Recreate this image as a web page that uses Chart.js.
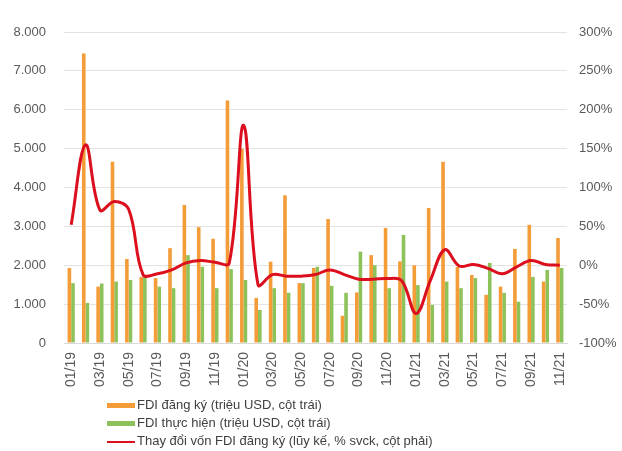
<!DOCTYPE html>
<html>
<head>
<meta charset="utf-8">
<script src="https://cdn.jsdelivr.net/npm/chart.js@4/dist/chart.umd.min.js"></script>
<style>
    html, body { margin: 0; padding: 0; background: #fff; }
    #wrap { position: relative; width: 622px; height: 451px; font-family: 'Liberation Sans', Arial, sans-serif; }
    #chartBox { position: absolute; left: 0; top: 0; width: 622px; height: 400px; }
    #legend { position: absolute; left: 107px; top: 396px; font-size: 13px; color: #404040; }
    .legend__row { height: 18px; line-height: 18px; white-space: nowrap; }
    .legend__mark { display: inline-block; width: 28px; vertical-align: middle; margin-right: 2px; }
</style>
</head>
<body>
<div id="wrap">
    <div id="chartBox"><canvas id="fdiChart"></canvas></div>
    <div id="legend"></div>
</div>
<script>
const months = [
    '01/19', '02/19', '03/19', '04/19', '05/19', '06/19', '07/19', '08/19', '09/19', '10/19', '11/19', '12/19',
    '01/20', '02/20', '03/20', '04/20', '05/20', '06/20', '07/20', '08/20', '09/20', '10/20', '11/20', '12/20',
    '01/21', '02/21', '03/21', '04/21', '05/21', '06/21', '07/21', '08/21', '09/21', '10/21', '11/21'
];

// FDI đăng ký, triệu USD (cột trái)
const registered = [
    1930, 7450, 1450, 4660, 2160, 1700, 1670, 2440, 3550, 2980, 2680, 6240,
    5000, 1160, 2090, 3800, 1540, 1930, 3190, 700, 1300, 2260, 2960, 2100,
    2000, 3470, 4660, 1960, 1750, 1240, 1450, 2420, 3040, 1580, 2700
];

// FDI thực hiện, triệu USD (cột trái)
const disbursed = [
    1540, 1030, 1530, 1580, 1620, 1700, 1450, 1410, 2260, 1960, 1410, 1900,
    1620, 850, 1410, 1290, 1540, 1960, 1470, 1290, 2350, 2000, 1410, 2780,
    1490, 980, 1580, 1410, 1670, 2060, 1290, 1060, 1700, 1880, 1930
];

// Thay đổi vốn FDI đăng ký, lũy kế % svck (cột phải)
const registeredChange = [
    52, 155, 71, 82, 72, -12, -11, -6, 3, 6, 4, 3,
    180, -25, -12, -14, -14, -12, -6, -12, -18, -18, -17, -20,
    -62, -19, 20, -1, 1, -4, -11, -2, 6, 1, 0
];

const leftTicks = [0, 1000, 2000, 3000, 4000, 5000, 6000, 7000, 8000];
const rightTicks = [-100, -50, 0, 50, 100, 150, 200, 250, 300];

const ORANGE = '#F39C38';
const GREEN = '#8DC25A';
const RED = '#DC0F1E';
const TICK_COLOR = '#595959';

const seriesInfo = [
    { label: 'FDI đăng ký (triệu USD, cột trái)', color: ORANGE, height: 5 },
    { label: 'FDI thực hiện (triệu USD, cột trái)', color: GREEN, height: 5 },
    { label: 'Thay đổi vốn FDI đăng ký (lũy kế, % svck, cột phải)', color: RED, height: 2 }
];

function formatThousands(value) {
    return String(value).replace(/\B(?=(\d{3})+(?!\d))/g, '.');
}

function buildLegend() {
    const legendEl = document.getElementById('legend');
    let html = '';
    seriesInfo.forEach(function (item) {
        html += '<div class="legend__row">' +
            '<span class="legend__mark" style="height:' + item.height + 'px;background:' + item.color + '"></span>' +
            item.label + '</div>';
    });
    legendEl.innerHTML = html;
}

function drawChart() {
    const ctx = document.getElementById('fdiChart').getContext('2d');
    const family = "'Liberation Sans', Arial, sans-serif";

    new Chart(ctx, {
        type: 'bar',
        data: {
            labels: months,
            datasets: [
                {
                    type: 'line',
                    label: seriesInfo[2].label,
                    data: registeredChange,
                    yAxisID: 'yRight',
                    borderColor: RED,
                    borderWidth: 3,
                    tension: 0.38,
                    pointRadius: 0,
                    fill: false,
                    order: 0
                },
                {
                    label: seriesInfo[0].label,
                    data: registered,
                    yAxisID: 'yLeft',
                    backgroundColor: ORANGE,
                    categoryPercentage: 0.5,
                    barPercentage: 1.0,
                    order: 1
                },
                {
                    label: seriesInfo[1].label,
                    data: disbursed,
                    yAxisID: 'yLeft',
                    backgroundColor: GREEN,
                    categoryPercentage: 0.5,
                    barPercentage: 1.0,
                    order: 1
                }
            ]
        },
        options: {
            responsive: true,
            maintainAspectRatio: false,
            animation: false,
            layout: { padding: { top: 32, left: 0, right: 0, bottom: 0 } },
            plugins: {
                legend: { display: false },
                tooltip: { enabled: false }
            },
            scales: {
                x: {
                    grid: { display: false, drawTicks: false },
                    border: { color: '#D9D9D9' },
                    ticks: {
                        autoSkip: false,
                        maxRotation: 90,
                        minRotation: 90,
                        padding: 9,
                        color: TICK_COLOR,
                        font: { family: family, size: 14 },
                        callback: function (value, index) {
                            return index % 2 === 0 ? months[index] : '';
                        }
                    },
                    afterFit: function (scale) { scale.height = 57; }
                },
                yLeft: {
                    position: 'left',
                    min: 0,
                    max: 8000,
                    afterBuildTicks: function (scale) {
                        scale.ticks = leftTicks.map(function (v) { return { value: v }; });
                    },
                    grid: { color: '#E3E3E3', drawTicks: false },
                    border: { display: false },
                    ticks: {
                        padding: 18,
                        color: TICK_COLOR,
                        font: { family: family, size: 13 },
                        callback: function (value) { return formatThousands(value); }
                    },
                    afterFit: function (scale) { scale.width = 64; }
                },
                yRight: {
                    position: 'right',
                    min: -100,
                    max: 300,
                    afterBuildTicks: function (scale) {
                        scale.ticks = rightTicks.map(function (v) { return { value: v }; });
                    },
                    grid: { display: false, drawTicks: false },
                    border: { display: false },
                    ticks: {
                        padding: 12,
                        color: TICK_COLOR,
                        font: { family: family, size: 13 },
                        callback: function (value) { return value + '%'; }
                    },
                    afterFit: function (scale) { scale.width = 55; }
                }
            }
        }
    });
}

buildLegend();
drawChart();
</script>
</body>
</html>
